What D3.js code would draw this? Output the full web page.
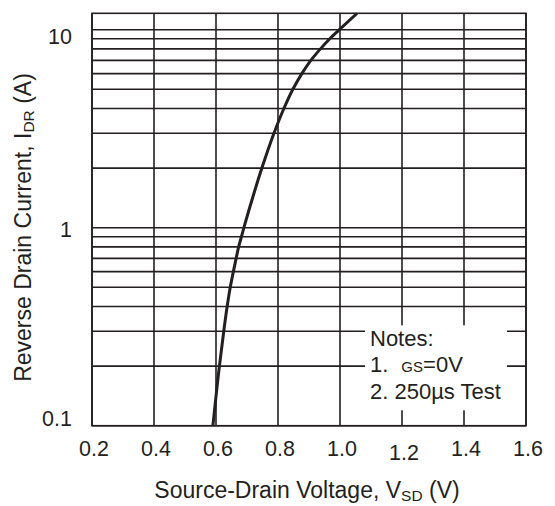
<!DOCTYPE html>
<html>
<head>
<meta charset="utf-8">
<script src="https://cdn.jsdelivr.net/npm/d3@7"></script>
<style>
  body { margin: 0; background: #fff; }
  text { font-family: Arial, "Liberation Sans", sans-serif; fill: #231f20; }
</style>
</head>
<body>
<script>
// curve
var vsd = [0.590, 0.611, 0.625, 0.636, 0.646, 0.656, 0.665, 0.673, 0.682, 0.690, 0.716, 0.748, 0.787, 0.819, 0.848, 0.877, 0.906, 0.937, 0.967, 0.998, 1.055];
var idr = [0.1, 0.2, 0.3, 0.4, 0.5, 0.6, 0.7, 0.8, 0.9, 1.0, 1.38, 2, 3, 4, 5, 6, 7, 8, 9, 10, 12.1];

var xTicks = [0.2, 0.4, 0.6, 0.8, 1.0, 1.2, 1.4, 1.6];
var xTickLabels = ["0.2", "0.4", "0.6", "0.8", "1.0", "1.2", "1.4", "1.6"];
var yTicks = [0.1, 1, 10];
var yTickLabels = ["0.1", "1", "10"];
var yGrid = [0.1, 0.2, 0.3, 0.4, 0.5, 0.6, 0.7, 0.8, 0.9, 1, 2, 3, 4, 5, 6, 7, 8, 9, 10];
var notes = ["Notes:", "1.", "2. 250\u00b5s Test"];

var svgWidth = 555;
var svgHeight = 506;
var margin = { top: 13.3, right: 29, bottom: 80.3, left: 92 };
var width = svgWidth - margin.left - margin.right;
var height = svgHeight - margin.top - margin.bottom;
var ink = "#231f20";

var svg = d3.select("body")
  .append("svg")
  .attr("width", svgWidth)
  .attr("height", svgHeight);
var chartGroup = svg.append("g")
  .attr("transform", `translate(${margin.left}, ${margin.top})`);

var xScale = d3.scaleLinear()
  .domain([0.2, 1.6])
  .range([0, width]);
var yScale = d3.scaleLog()
  .domain([0.1, 12.1])
  .range([height, 0]);

// grid
chartGroup.selectAll(".hgrid")
  .data(yGrid)
  .enter()
  .append("line")
  .attr("x1", 0)
  .attr("x2", width)
  .attr("y1", d => yScale(d))
  .attr("y2", d => yScale(d))
  .attr("stroke", ink)
  .attr("stroke-width", 1.6);

chartGroup.selectAll(".vgrid")
  .data(xTicks)
  .enter()
  .append("line")
  .attr("x1", d => xScale(d))
  .attr("x2", d => xScale(d))
  .attr("y1", 0)
  .attr("y2", height)
  .attr("stroke", ink)
  .attr("stroke-width", 1.6);

chartGroup.append("rect")
  .attr("width", width)
  .attr("height", height)
  .attr("fill", "none")
  .attr("stroke", ink)
  .attr("stroke-width", 1.6);

// notes box blanks out the grid behind it
chartGroup.append("rect")
  .attr("x", 273)
  .attr("y", 312)
  .attr("width", 142)
  .attr("height", 85)
  .attr("fill", "#fff");

var notesG = chartGroup.append("g")
  .attr("transform", "translate(278, 333)")
  .style("font-size", "22px");
notesG.append("text").attr("y", 0).text(notes[0]);
var n1 = notesG.append("text").attr("y", 26).text(notes[1]);
n1.append("tspan").attr("dx", 13).style("font-size", "15px").text("GS");
n1.append("tspan").text("=0V");
notesG.append("text").attr("y", 53).text(notes[2]);

// curve
var line = d3.line()
  .x(d => xScale(d[0]))
  .y(d => yScale(d[1]))
  .curve(d3.curveMonotoneY);

chartGroup.append("path")
  .datum(vsd.map((v, i) => [v, idr[i]]))
  .attr("d", line)
  .attr("fill", "none")
  .attr("stroke", ink)
  .attr("stroke-width", 3);

// tick labels
var yNudge = { "10": 7, "1": 2, "0.1": -7 };
chartGroup.selectAll(".ylab")
  .data(yTicks)
  .enter()
  .append("text")
  .attr("x", -20)
  .attr("y", (d, i) => yScale(d) + yNudge[yTickLabels[i]])
  .attr("dy", "0.35em")
  .style("text-anchor", "end")
  .style("font-size", "21.5px")
  .text((d, i) => yTickLabels[i]);

chartGroup.selectAll(".xlab")
  .data(xTicks)
  .enter()
  .append("text")
  .attr("x", d => xScale(d) + 2)
  .attr("y", (d, i) => height + (xTickLabels[i] === "1.2" ? 34 : 30.5))
  .style("text-anchor", "middle")
  .style("font-size", "21.5px")
  .text((d, i) => xTickLabels[i]);

// axis titles
var xt = svg.append("text")
  .attr("x", 307)
  .attr("y", 498)
  .style("text-anchor", "middle")
  .style("font-size", "23px")
  .text("Source-Drain Voltage, V");
xt.append("tspan").attr("dy", 3).style("font-size", "15.5px").text("SD");
xt.append("tspan").attr("dy", -3).text(" (V)");

var yt = svg.append("text")
  .attr("transform", "rotate(-90)")
  .attr("x", -227.5)
  .attr("y", 31)
  .style("text-anchor", "middle")
  .style("font-size", "23px")
  .text("Reverse Drain Current, I");
yt.append("tspan").attr("dy", 3).style("font-size", "15.5px").text("DR");
yt.append("tspan").attr("dy", -3).text(" (A)");
</script>
</body>
</html>
